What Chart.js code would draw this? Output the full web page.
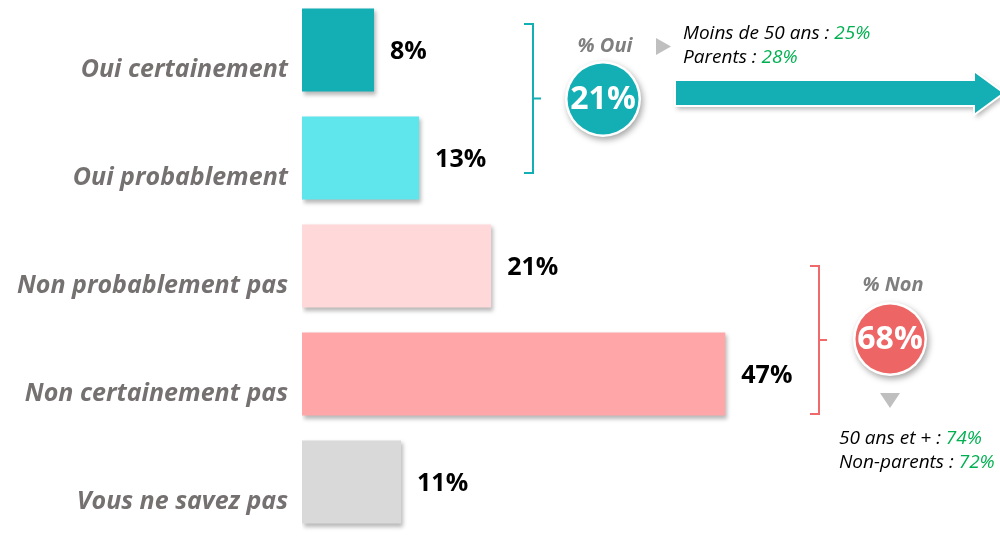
<!DOCTYPE html>
<html>
<head>
<meta charset="utf-8">
<script src="https://cdn.jsdelivr.net/npm/chart.js@4.4.0/dist/chart.umd.min.js"></script>
<style>
  html, body { margin: 0; padding: 0; background: #fff; overflow: hidden; }
  #wrap { position: absolute; left: 0; top: -4px; width: 1000px; height: 540px; }
</style>
</head>
<body>
<div id="wrap"><canvas id="chart" width="1000" height="540"></canvas></div>
<script>
const categories = ["Oui certainement", "Oui probablement", "Non probablement pas", "Non certainement pas", "Vous ne savez pas"];
const values = [8, 13, 21, 47, 11];
const barColors = ["#14AEB5", "#5FE5EC", "#FFD8DA", "#FFA7A8", "#D9D9D9"];

const ouiTotal = "21%";
const nonTotal = "68%";
const ouiDetails = [["Moins de 50 ans : ", "25%"], ["Parents : ", "28%"]];
const nonDetails = [["50 ans et + : ", "74%"], ["Non-parents : ", "72%"]];

const TEAL = "#14AEB5";
const RED = "#EE6565";
const GREEN = "#00B050";
const GREY_TXT = "#767171";
const FONT = "'Open Sans', sans-serif";

// soft shadow under the bars, then the value labels
const barDecor = {
    id: "barDecor",
    beforeDatasetsDraw(chart) {
        const ctx = chart.ctx;
        ctx.save();
        ctx.shadowColor = "rgba(0,0,0,0.28)";
        ctx.shadowBlur = 4;
        ctx.shadowOffsetX = 2;
        ctx.shadowOffsetY = 3;
    },
    afterDatasetsDraw(chart) {
        const ctx = chart.ctx;
        ctx.restore();
        const meta = chart.getDatasetMeta(0);
        ctx.save();
        ctx.font = "bold 25px " + FONT;
        ctx.fillStyle = "#000";
        ctx.textAlign = "left";
        ctx.textBaseline = "middle";
        meta.data.forEach((bar, i) => {
            ctx.fillText(values[i] + "%", bar.x + 16, bar.y + 2);
        });
        ctx.restore();
    }
};

function bracket(ctx, x, y1, y2, color) {
    const ym = (y1 + y2) / 2;
    ctx.strokeStyle = color;
    ctx.lineWidth = 2;
    ctx.beginPath();
    ctx.moveTo(x - 9, y1); ctx.lineTo(x, y1); ctx.lineTo(x, y2); ctx.lineTo(x - 9, y2);
    ctx.moveTo(x, ym); ctx.lineTo(x + 8, ym);
    ctx.stroke();
}

function bubble(ctx, cx, cy, r, color, text) {
    ctx.save();
    ctx.shadowColor = "rgba(0,0,0,0.35)";
    ctx.shadowBlur = 6;
    ctx.shadowOffsetX = 2;
    ctx.shadowOffsetY = 3;
    ctx.beginPath();
    ctx.arc(cx, cy, r, 0, Math.PI * 2);
    ctx.fillStyle = "#fff";
    ctx.fill();
    ctx.restore();
    ctx.beginPath();
    ctx.arc(cx, cy, r - 2.5, 0, Math.PI * 2);
    ctx.fillStyle = color;
    ctx.fill();
    ctx.font = "bold 32px " + FONT;
    ctx.fillStyle = "#fff";
    ctx.textAlign = "center";
    ctx.textBaseline = "middle";
    ctx.fillText(text, cx, cy + 1);
}

function detailLines(ctx, x, y, lines) {
    ctx.font = "italic 19px " + FONT;
    ctx.textAlign = "left";
    ctx.textBaseline = "alphabetic";
    lines.forEach((ln, i) => {
        const yy = y + i * 24;
        ctx.fillStyle = "#000";
        ctx.fillText(ln[0], x, yy);
        ctx.fillStyle = GREEN;
        ctx.fillText(ln[1], x + ctx.measureText(ln[0]).width, yy);
    });
}

const annotations = {
    id: "annotations",
    afterDraw(chart) {
        const ctx = chart.ctx;
        ctx.save();
        ctx.translate(0, 4); // canvas sits 4px above the page top

        // Oui group
        bracket(ctx, 533, 24, 173, TEAL);
        ctx.font = "bold italic 20px " + FONT;
        ctx.fillStyle = "#7F7F7F";
        ctx.textAlign = "center";
        ctx.textBaseline = "middle";
        ctx.fillText("% Oui", 605, 46);
        ctx.fillStyle = "#BFBFBF";
        ctx.beginPath();
        ctx.moveTo(656, 38); ctx.lineTo(671, 46.5); ctx.lineTo(656, 55); ctx.closePath();
        ctx.fill();
        bubble(ctx, 603, 99, 38, TEAL, ouiTotal);
        detailLines(ctx, 683, 39, ouiDetails);

        // big arrow
        ctx.save();
        ctx.shadowColor = "rgba(0,0,0,0.3)";
        ctx.shadowBlur = 5;
        ctx.shadowOffsetX = 2;
        ctx.shadowOffsetY = 3;
        ctx.beginPath();
        ctx.moveTo(675, 80); ctx.lineTo(974, 80); ctx.lineTo(974, 71);
        ctx.lineTo(1004, 93); ctx.lineTo(974, 115); ctx.lineTo(974, 106);
        ctx.lineTo(675, 106); ctx.closePath();
        ctx.fillStyle = TEAL;
        ctx.fill();
        ctx.restore();
        ctx.lineWidth = 2;
        ctx.strokeStyle = "#fff";
        ctx.stroke();

        // Non group
        bracket(ctx, 819, 266, 414, "#F06A6C");
        ctx.font = "bold italic 20px " + FONT;
        ctx.fillStyle = "#7F7F7F";
        ctx.textAlign = "center";
        ctx.textBaseline = "middle";
        ctx.fillText("% Non", 893, 285);
        bubble(ctx, 890, 339, 37, RED, nonTotal);
        ctx.fillStyle = "#BFBFBF";
        ctx.beginPath();
        ctx.moveTo(880, 393); ctx.lineTo(900, 393); ctx.lineTo(890, 408); ctx.closePath();
        ctx.fill();
        detailLines(ctx, 839, 444, nonDetails);

        ctx.restore();
    }
};

new Chart(document.getElementById("chart"), {
    type: "bar",
    data: {
        labels: categories,
        datasets: [{
            data: values,
            backgroundColor: barColors,
            borderWidth: 0,
            categoryPercentage: 1,
            barPercentage: 0.77
        }]
    },
    options: {
        indexAxis: "y",
        responsive: false,
        animation: false,
        events: [],
        layout: { padding: 0 },
        plugins: { legend: { display: false }, tooltip: { enabled: false } },
        scales: {
            x: { display: false, min: 0, max: 77.5 },
            y: {
                grid: { display: false, drawTicks: false },
                border: { display: false },
                ticks: {
                    padding: 14,
                    labelOffset: 20,
                    color: GREY_TXT,
                    font: { family: "'Open Sans'", size: 25, weight: "bold", style: "italic" }
                },
                afterFit(scale) {
                    scale.width = 302;
                    scale.paddingTop = 0;
                    scale.paddingBottom = 0;
                }
            }
        }
    },
    plugins: [barDecor, annotations]
});
</script>
</body>
</html>
